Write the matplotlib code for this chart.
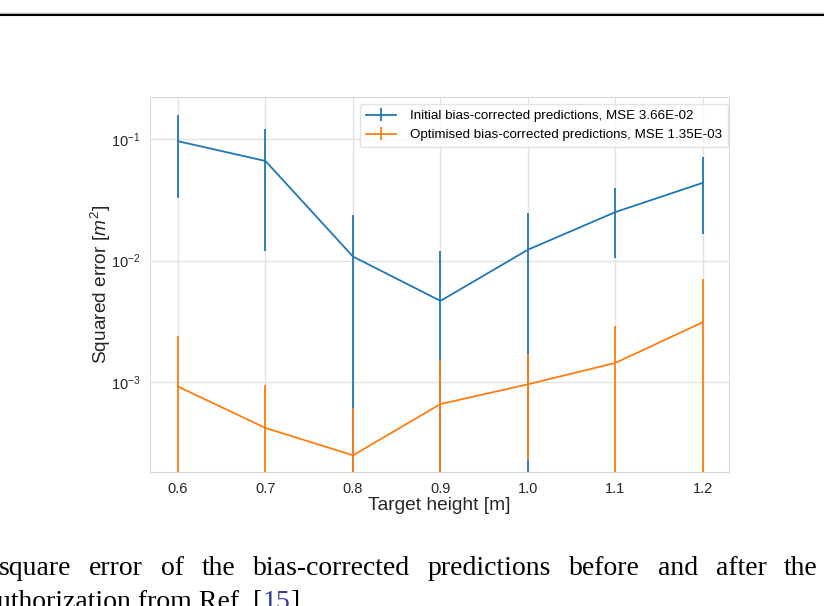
import numpy as np
import matplotlib
matplotlib.use("Agg")
import matplotlib.pyplot as plt
from matplotlib.lines import Line2D

# target heights [m]
heights = [0.6, 0.7, 0.8, 0.9, 1.0, 1.1, 1.2]

# initial bias-corrected predictions: mean squared error and its spread
init_mse = [0.096, 0.066, 0.0108, 0.00466, 0.0123, 0.0251, 0.0437]
init_err = [0.063, 0.054, 0.013, 0.0073, 0.0125, 0.0145, 0.0272]

# optimised bias-corrected predictions
opt_mse = [9.2e-4, 4.2e-4, 2.5e-4, 6.6e-4, 9.6e-4, 1.44e-3, 3.12e-3]
opt_err = [1.49e-3, 5.3e-4, 3.6e-4, 8.6e-4, 7.3e-4, 1.45e-3, 4.0e-3]

init_label = "Initial bias-corrected predictions, MSE 3.66E-02"
opt_label = "Optimised bias-corrected predictions, MSE 1.35E-03"

caption1 = "square error of the bias-corrected predictions before and after the"
caption2 = ["uthorization from Ref. [", "15", "]"]

plt.rcParams['font.family'] = ['Liberation Sans', 'DejaVu Sans']
plt.rcParams['mathtext.fontset'] = 'custom'
plt.rcParams['mathtext.rm'] = 'Liberation Sans'
plt.rcParams['mathtext.it'] = 'Liberation Sans:italic'

fig = plt.figure(figsize=(8.24, 6.06), dpi=100)
ax = fig.add_axes([0.182, 0.221, 0.703, 0.619])

ax.errorbar(heights, init_mse, yerr=init_err, color='#1f77b4', lw=1.3,
            elinewidth=1.3, label=init_label)
ax.errorbar(heights, opt_mse, yerr=opt_err, color='#ff7f0e', lw=1.3,
            elinewidth=1.3, label=opt_label)

ax.set_yscale('log')
ax.set_ylim(1.82e-4, 0.222)
ax.set_xlim(0.568, 1.23)
ax.set_xticks(heights)
ax.set_xticklabels(["%.1f" % h for h in heights])
ax.minorticks_off()

ax.grid(True, color='#e3e3e3', lw=1.0)
ax.set_axisbelow(True)
for s in ax.spines.values():
    s.set_color('#d9d9d9')
ax.tick_params(length=0, labelsize=10.5, colors='#262626', pad=7)

ax.set_xlabel("Target height [m]", fontsize=13.8, color='#262626', labelpad=1)
ax.set_ylabel("Squared error [$m^2$]", fontsize=13.8, color='#262626', labelpad=-1.5)

leg = ax.legend(loc='upper right', fontsize=9.6, frameon=True,
                bbox_to_anchor=(1.0, 0.985), borderaxespad=0.1,
                handlelength=2.3, handletextpad=1.0, borderpad=0.45)
leg.get_frame().set_edgecolor('#dddddd')

# page rule at the top
fig.add_artist(Line2D([0, 1], [0.978, 0.978], transform=fig.transFigure,
                      color='#bbbbbb', lw=1.0))
fig.add_artist(Line2D([0, 1], [0.975, 0.975], transform=fig.transFigure,
                      color='black', lw=1.5))

# caption fragment below the chart, justified line + cut-off second line
W = 824.0
r = fig.canvas.get_renderer()
words = caption1.split()
wtexts = [fig.text(0, 0.051, w, family='Liberation Serif', fontsize=20,
                   va='baseline') for w in words]
widths = [t.get_window_extent(r).width for t in wtexts]
x0, x1 = -1.0, 818.0
gap = (x1 - x0 - sum(widths)) / (len(words) - 1)
x = x0
for t, w in zip(wtexts, widths):
    t.set_x(x / W)
    x += w + gap

x = -3.0
for part, col in zip(caption2, ['black', '#3b3b9a', 'black']):
    t = fig.text(x / W, -0.005, part, family='Liberation Serif', fontsize=20,
                 color=col, va='baseline')
    x += t.get_window_extent(r).width

fig.savefig("out.png", dpi=100)
